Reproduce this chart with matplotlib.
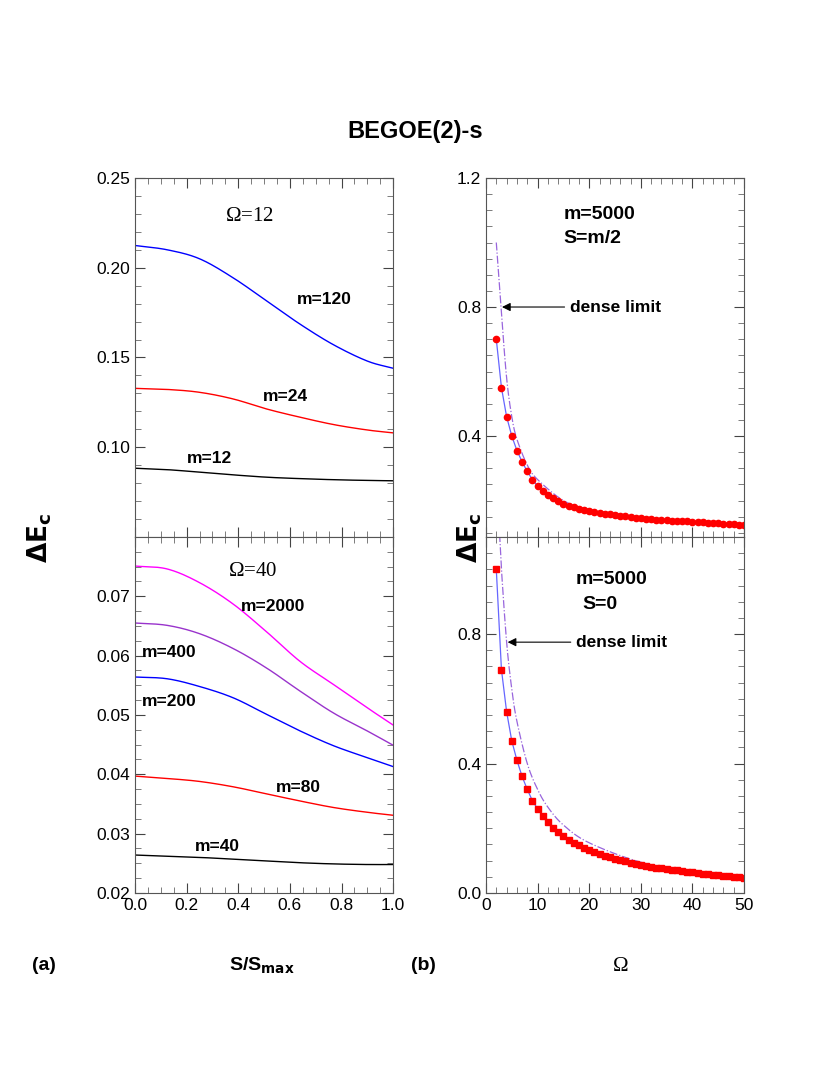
import matplotlib
matplotlib.use("Agg")
import matplotlib.pyplot as plt
import numpy as np
from matplotlib.ticker import MultipleLocator, FixedLocator

plt.rcParams['font.family'] = 'Liberation Sans'
plt.rcParams['mathtext.fontset'] = 'custom'
plt.rcParams['mathtext.rm'] = 'Liberation Serif'

# Panel (a) top, Omega=12
S = [0.0, 0.125, 0.25, 0.38, 0.51, 0.64, 0.77, 0.9, 1.0]
m120 = [0.2124, 0.2100, 0.2050, 0.1944, 0.1815, 0.1685, 0.1570, 0.1480, 0.1440]
m24 = [0.1328, 0.1322, 0.1306, 0.1269, 0.1213, 0.1167, 0.1126, 0.1096, 0.1080]
m12 = [0.0883, 0.0875, 0.0861, 0.0846, 0.0833, 0.0825, 0.0819, 0.0815, 0.0813]
# Panel (a) bottom, Omega=40
m2000 = [0.0751, 0.0746, 0.0723, 0.0687, 0.0640, 0.0590, 0.0551, 0.0512, 0.0483]
m400 = [0.0655, 0.0651, 0.0637, 0.0612, 0.0579, 0.0540, 0.0503, 0.0473, 0.0449]
m200 = [0.0564, 0.0561, 0.0548, 0.0529, 0.0501, 0.0473, 0.0448, 0.0428, 0.0413]
m80 = [0.0397, 0.0393, 0.0388, 0.0379, 0.0367, 0.0355, 0.0344, 0.0336, 0.0331]
m40 = [0.0264, 0.0262, 0.0260, 0.0257, 0.0254, 0.0251, 0.0249, 0.0248, 0.0248]

# Panel (b)
Omega = list(range(2, 51))
dE_half = [0.70, 0.55, 0.46, 0.40, 0.355, 0.32, 0.29, 0.265, 0.245, 0.23, 0.218, 0.207,
           0.198, 0.19, 0.184, 0.179, 0.175, 0.171, 0.168, 0.165, 0.162, 0.159, 0.157,
           0.155, 0.153, 0.151, 0.149, 0.147, 0.146, 0.144, 0.143, 0.141, 0.140, 0.139,
           0.138, 0.137, 0.136, 0.135, 0.134, 0.133, 0.132, 0.131, 0.130, 0.129, 0.128,
           0.127, 0.126, 0.125, 0.124]
dense_om_top = [2, 3, 4, 5, 6, 8, 10, 15, 20, 30, 40, 50]
dense_top = [1.0, 0.78, 0.58, 0.46, 0.39, 0.31, 0.265, 0.20, 0.172, 0.148, 0.134, 0.124]
dE_zero = [1.0, 0.69, 0.56, 0.47, 0.41, 0.36, 0.32, 0.285, 0.26, 0.237, 0.218, 0.201,
           0.187, 0.176, 0.165, 0.155, 0.147, 0.139, 0.132, 0.126, 0.12, 0.115, 0.11,
           0.106, 0.102, 0.098, 0.094, 0.090, 0.086, 0.083, 0.080, 0.078, 0.076, 0.074,
           0.072, 0.070, 0.068, 0.066, 0.064, 0.062, 0.060, 0.058, 0.056, 0.055, 0.053,
           0.051, 0.050, 0.048, 0.047]
dense_om_bot = [2.5, 3, 4, 5, 6, 8, 10, 12, 15, 20, 30, 40, 50]
dense_bot = [1.15, 1.0, 0.775, 0.63, 0.53, 0.40, 0.32, 0.265, 0.21, 0.155, 0.095, 0.066, 0.048]


def smooth(x, y, n=20):
    """Catmull-Rom curve through the read points (drawing only)."""
    x = np.asarray(x, float); y = np.asarray(y, float)
    P = np.column_stack([x, y])
    P = np.vstack([2 * P[0] - P[1], P, 2 * P[-1] - P[-2]])
    out = []
    t = np.linspace(0, 1, n, endpoint=False)[:, None]
    for i in range(1, len(P) - 2):
        p0, p1, p2, p3 = P[i - 1], P[i], P[i + 1], P[i + 2]
        seg = 0.5 * ((2 * p1) + (-p0 + p2) * t + (2 * p0 - 5 * p1 + 4 * p2 - p3) * t ** 2
                     + (-p0 + 3 * p1 - 3 * p2 + p3) * t ** 3)
        out.append(seg)
    out.append(P[-2][None, :])
    out = np.vstack(out)
    return out[:, 0], out[:, 1]


fig = plt.figure(figsize=(8.3, 10.75), dpi=100)
W = 0.311
axTL = fig.add_axes([0.1627, 0.5005, W, 0.3339])
axBL = fig.add_axes([0.1627, 0.1693, W, 0.3312])
axTR = fig.add_axes([0.5855, 0.5005, W, 0.3339])
axBR = fig.add_axes([0.5855, 0.1693, W, 0.3312])

for ax in (axTL, axBL, axTR, axBR):
    ax.tick_params(which='both', direction='in', top=True, right=True, labelsize=12.5)
    ax.tick_params(which='major', length=7, width=0.8, color='#444')
    ax.tick_params(which='minor', length=4, width=0.6, color='#666')
    for s in ax.spines.values():
        s.set_color('#555')

# left panels
for y, c in [(m120, 'blue'), (m24, 'red'), (m12, 'black')]:
    axTL.plot(*smooth(S, y), color=c, lw=1)
axTL.set_xlim(0, 1); axTL.set_ylim(0.05, 0.25)
axTL.yaxis.set_major_locator(FixedLocator([0.10, 0.15, 0.20, 0.25]))
axTL.yaxis.set_minor_locator(MultipleLocator(0.01))
axTL.set_yticklabels(['0.10', '0.15', '0.20', '0.25'])
axTL.xaxis.set_major_locator(MultipleLocator(0.2)); axTL.xaxis.set_minor_locator(MultipleLocator(0.05))
axTL.tick_params(labelbottom=False)
axTL.text(0.35, 0.2287, r'$\Omega$=12', fontsize=15, family='Liberation Serif', va='center')
axTL.text(0.626, 0.1824, 'm=120', fontsize=12.5, weight='bold', va='center')
axTL.text(0.497, 0.1283, 'm=24', fontsize=12.5, weight='bold', va='center')
axTL.text(0.20, 0.0935, 'm=12', fontsize=12.5, weight='bold', va='center')

for y, c in [(m2000, '#ff00ff'), (m400, '#9933cc'), (m200, 'blue'), (m80, 'red'), (m40, 'black')]:
    axBL.plot(*smooth(S, y), color=c, lw=1)
axBL.set_xlim(0, 1); axBL.set_ylim(0.02, 0.08)
axBL.yaxis.set_major_locator(FixedLocator([0.02, 0.03, 0.04, 0.05, 0.06, 0.07]))
axBL.yaxis.set_minor_locator(MultipleLocator(0.0025))
axBL.set_yticklabels(['0.02', '0.03', '0.04', '0.05', '0.06', '0.07'])
axBL.xaxis.set_minor_locator(MultipleLocator(0.05))
axBL.set_xticks([0, 0.2, 0.4, 0.6, 0.8, 1.0]); axBL.set_xticklabels(['0.0', '0.2', '0.4', '0.6', '0.8', '1.0'])
axBL.text(0.36, 0.0741, r'$\Omega$=40', fontsize=15, family='Liberation Serif', va='center')
axBL.text(0.41, 0.0683, 'm=2000', fontsize=12.5, weight='bold', va='center')
axBL.text(0.025, 0.0605, 'm=400', fontsize=12.5, weight='bold', va='center')
axBL.text(0.025, 0.0522, 'm=200', fontsize=12.5, weight='bold', va='center')
axBL.text(0.545, 0.0378, 'm=80', fontsize=12.5, weight='bold', va='center')
axBL.text(0.23, 0.0278, 'm=40', fontsize=12.5, weight='bold', va='center')

# right panels
axTR.plot(*smooth(dense_om_top, dense_top), color='#9966dd', lw=0.9, ls='-.')
axTR.plot(Omega, dE_half, color='#6666ff', lw=0.9)
axTR.plot(Omega, dE_half, 'o', color='red', ms=4.5, ls='none')
axTR.set_xlim(0, 50); axTR.set_ylim(0.087, 1.2)
axTR.set_yticks([0.4, 0.8, 1.2]); axTR.set_yticklabels(['0.4', '0.8', '1.2'])
axTR.yaxis.set_minor_locator(MultipleLocator(0.05))
axTR.xaxis.set_major_locator(MultipleLocator(10)); axTR.xaxis.set_minor_locator(MultipleLocator(2))
axTR.tick_params(labelbottom=False)
axTR.text(15, 1.0, 'm=5000\nS=m/2', fontsize=14, weight='bold', linespacing=1.5)
axTR.annotate('dense limit', xy=(3.1, 0.80), xytext=(16.3, 0.80), fontsize=12.5, weight='bold',
              va='center', arrowprops=dict(arrowstyle='-|>', color='black', lw=0.8, shrinkA=2, shrinkB=0))

axBR.plot(*smooth(dense_om_bot, dense_bot), color='#9966dd', lw=0.9, ls='-.')
axBR.plot(Omega, dE_zero, color='#6666ff', lw=0.9)
axBR.plot(Omega, dE_zero, 's', color='red', ms=3.8, ls='none')
axBR.set_xlim(0, 50); axBR.set_ylim(0.0, 1.10)
axBR.set_yticks([0.0, 0.4, 0.8]); axBR.set_yticklabels(['0.0', '0.4', '0.8'])
axBR.yaxis.set_minor_locator(MultipleLocator(0.05))
axBR.xaxis.set_major_locator(MultipleLocator(10)); axBR.xaxis.set_minor_locator(MultipleLocator(2))
axBR.text(17.4, 0.97, 'm=5000', fontsize=14, weight='bold', va='center')
axBR.text(18.6, 0.89, 'S=0', fontsize=14, weight='bold', va='center')
axBR.annotate('dense limit', xy=(4.2, 0.775), xytext=(17.5, 0.775), fontsize=12.5, weight='bold',
              va='center', arrowprops=dict(arrowstyle='-|>', color='black', lw=0.8, shrinkA=2, shrinkB=0))

fig.text(0.5, 0.878, 'BEGOE(2)-s', ha='center', va='center', fontsize=17, weight='bold')
fig.text(0.048, 0.5, r'$\mathbf{\Delta E_c}$', ha='center', va='center', fontsize=19, rotation=90)
fig.text(0.566, 0.5, r'$\mathbf{\Delta E_c}$', ha='center', va='center', fontsize=19, rotation=90)
fig.text(0.038, 0.102, '(a)', fontsize=14, weight='bold', va='center')
fig.text(0.316, 0.102, r'S/S$_{\mathbf{max}}$', fontsize=14, weight='bold', va='center', ha='center')
fig.text(0.495, 0.102, '(b)', fontsize=14, weight='bold', va='center')
fig.text(0.747, 0.102, r'$\Omega$', fontsize=15, va='center', ha='center')

fig.savefig('out.png', dpi=100)
